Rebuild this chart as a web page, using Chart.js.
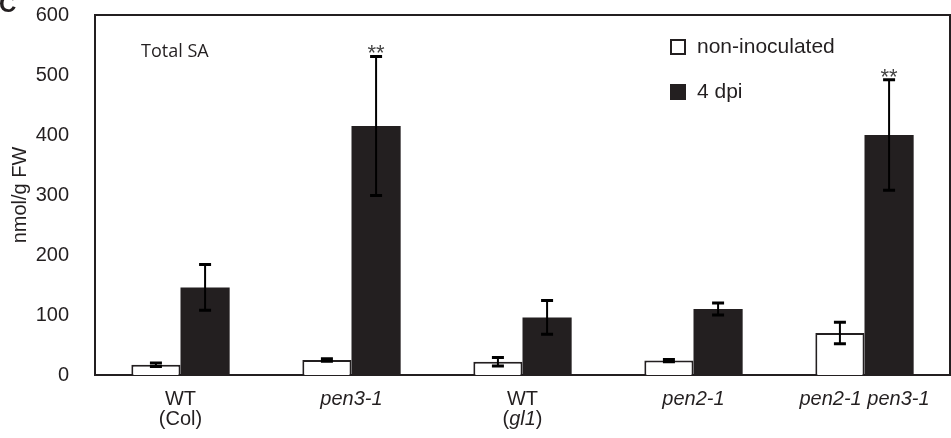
<!DOCTYPE html>
<html>
<head>
<meta charset="utf-8">
<script src="https://cdn.jsdelivr.net/npm/chart.js@4"></script>
<style>
  html, body { margin: 0; padding: 0; background: #fff; }
  #wrap { width: 951px; height: 438px; }
</style>
</head>
<body>
<div id="wrap"><canvas id="chart"></canvas></div>
<script>
// categories, *...* = italic
const categories = ["WT\n(Col)", "*pen3-1*", "WT\n(*gl1*)", "*pen2-1*", "*pen2-1 pen3-1*"];
const nonInoc = [17, 25, 22, 24, 70];
const nonInocErr = [3, 2, 7, 2, 18];
const dpi4 = [146, 415, 96, 110, 400];
const dpi4Err = [38, 116, 28, 10, 92];
const stars = ["", "**", "", "", "**"];
const yTicks = [0, 100, 200, 300, 400, 500, 600];

const INK = "#231f20";
const FONT = "'Liberation Sans', Arial, sans-serif";

// error bars, stars, frame, labels, legend
const extras = {
  id: "extras",
  afterDatasetsDraw(chart) {
    const ctx = chart.ctx;
    const y = chart.scales.y;
    const errs = [nonInocErr, dpi4Err];
    ctx.save();
    chart.data.datasets.forEach((ds, di) => {
      chart.getDatasetMeta(di).data.forEach((bar, i) => {
        const v = ds.data[i], e = errs[di][i];
        const top = y.getPixelForValue(v + e);
        const bot = y.getPixelForValue(v - e);
        ctx.strokeStyle = "#000";
        ctx.lineWidth = 2;
        ctx.beginPath();
        ctx.moveTo(bar.x, top); ctx.lineTo(bar.x, bot);
        ctx.stroke();
        ctx.lineWidth = 3;
        ctx.beginPath();
        ctx.moveTo(bar.x - 6, top); ctx.lineTo(bar.x + 6, top);
        ctx.moveTo(bar.x - 6, bot); ctx.lineTo(bar.x + 6, bot);
        ctx.stroke();
        if (di === 1 && stars[i]) {
          ctx.fillStyle = "#444";
          ctx.font = "22px " + FONT;
          ctx.textAlign = "center";
          ctx.textBaseline = "alphabetic";
          ctx.fillText(stars[i], bar.x, top + 4);
        }
      });
    });
    ctx.restore();
  },
  afterDraw(chart) {
    const ctx = chart.ctx;
    const a = chart.chartArea;
    const x = chart.scales.x;
    ctx.save();
    // top and right frame
    ctx.strokeStyle = INK;
    ctx.lineWidth = 2;
    ctx.beginPath();
    ctx.moveTo(a.left, a.top); ctx.lineTo(a.right, a.top); ctx.lineTo(a.right, a.bottom);
    ctx.stroke();

    // x labels with italic parts
    ctx.fillStyle = INK;
    ctx.textBaseline = "alphabetic";
    categories.forEach((lab, i) => {
      const cx = x.getPixelForValue(i);
      lab.split("\n").forEach((line, li) => {
        const parts = line.split("*");
        let w = 0;
        parts.forEach((p, k) => {
          ctx.font = (k % 2 ? "italic " : "") + "20px " + FONT;
          w += ctx.measureText(p).width;
        });
        let px = cx - w / 2;
        parts.forEach((p, k) => {
          ctx.font = (k % 2 ? "italic " : "") + "20px " + FONT;
          ctx.textAlign = "left";
          ctx.fillText(p, px, 405 + li * 20);
          px += ctx.measureText(p).width;
        });
      });
    });

    // panel letter
    ctx.font = "bold 24px " + FONT;
    ctx.textAlign = "left";
    ctx.fillText("C", -1, 12);

    // Total SA
    ctx.font = "18px 'Open Sans', sans-serif";
    ctx.fillText("Total SA", 141, 57);

    // legend
    chart.data.datasets.forEach((ds, di) => {
      const ly = 39 + di * 45;
      ctx.fillStyle = ds.backgroundColor;
      ctx.fillRect(670, ly, 16, 16);
      ctx.strokeStyle = INK;
      ctx.lineWidth = 2;
      ctx.strokeRect(671, ly + 1, 14, 14);
      ctx.fillStyle = INK;
      ctx.font = "21px " + FONT;
      ctx.textBaseline = "middle";
      ctx.fillText(ds.label, 697, ly + 8);
    });
    ctx.restore();
  }
};

new Chart(document.getElementById("chart"), {
  type: "bar",
  data: {
    labels: categories,
    datasets: [
      {
        label: "non-inoculated",
        data: nonInoc,
        backgroundColor: "#ffffff",
        borderColor: INK,
        borderWidth: 2,
        categoryPercentage: 0.575,
        barPercentage: 1
      },
      {
        label: "4 dpi",
        data: dpi4,
        backgroundColor: INK,
        borderWidth: 0,
        categoryPercentage: 0.575,
        barPercentage: 1
      }
    ]
  },
  options: {
    responsive: true,
    maintainAspectRatio: false,
    animation: false,
    layout: { padding: { top: 15, right: 1, left: 0, bottom: 0 } },
    plugins: { legend: { display: false }, tooltip: { enabled: false } },
    scales: {
      x: {
        grid: { display: false },
        border: { color: INK, width: 2 },
        ticks: { display: false },
        afterFit: s => { s.height = 63; s.paddingLeft = 0; s.paddingRight = 0; }
      },
      y: {
        min: 0,
        max: 600,
        afterBuildTicks: s => { s.ticks = yTicks.map(v => ({ value: v })); },
        grid: { display: false },
        border: { color: INK, width: 2 },
        ticks: { color: INK, font: { family: FONT, size: 20 }, padding: 18 },
        title: { display: true, text: "nmol/g FW", color: INK, font: { family: FONT, size: 20 }, padding: { top: 8, bottom: 0 } },
        afterFit: s => { s.width = 95; s.paddingTop = 0; s.paddingBottom = 0; }
      }
    }
  },
  plugins: [extras]
});
</script>
</body>
</html>
